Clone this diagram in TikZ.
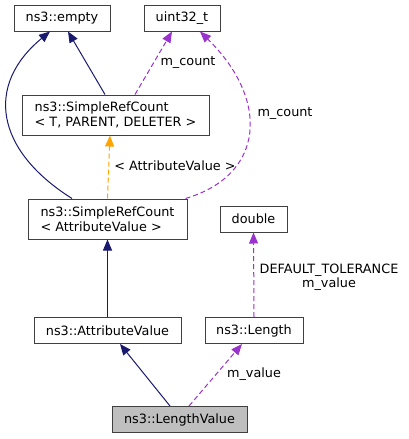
\documentclass[tikz,border=0pt]{standalone}
\usepackage{fontspec}
\setmainfont{DejaVu Sans}
\usetikzlibrary{arrows.meta}
\definecolor{boxgray}{HTML}{404040}
\definecolor{boxfill}{HTML}{BFBFBF}
\definecolor{inhblue}{HTML}{191970}
\definecolor{usepurple}{HTML}{9A32CD}
\definecolor{tmplorange}{HTML}{FFA500}
\begin{document}
\begin{tikzpicture}[x=1pt, y=-1pt, font=\fontsize{12.8}{14.5}\selectfont]
    \tikzstyle{cls}=[draw=boxgray, fill=white, line width=1pt, minimum height=26pt, inner sep=0pt]
    \tikzstyle{inh}=[inhblue, line width=1pt, -{Triangle[length=11pt,width=9pt]}]
    \tikzstyle{usage}=[usepurple, line width=1pt, dash pattern=on 5pt off 3pt, -{Triangle[length=11pt,width=9pt]}]
    \tikzstyle{tmpl}=[tmplorange, line width=1pt, dash pattern=on 5pt off 3pt, -{Triangle[length=11pt,width=9pt]}]
    \tikzstyle{lbl}=[inner sep=0pt, align=center]

    \useasboundingbox (0,0) rectangle (408,439);

    % classes
    \node[cls, minimum width=96pt] (empty) at (62,18) {ns3::empty};
    \node[cls, minimum width=76pt] (uint) at (182,18) {uint32\_t};
    \node[cls, minimum width=187pt, minimum height=40pt, align=left] (srct) at (115.5,115) {ns3::SimpleRefCount\\< T, PARENT, DELETER >};
    \node[cls, minimum width=159pt, minimum height=40pt, align=left] (srcav) at (107.5,219) {ns3::SimpleRefCount\\< AttributeValue >};
    \node[cls, minimum width=67pt] (double) at (253.5,219) {double};
    \node[cls, minimum width=147pt] (attr) at (107.5,330.5) {ns3::AttributeValue};
    \node[cls, minimum width=98pt] (length) at (254,330.5) {ns3::Length};
    \node[cls, fill=boxfill, minimum width=135pt] (lv) at (179.5,419.5) {ns3::LengthValue};

    % inheritance
    \draw[inh] ([xshift=-10.5pt]srct.north) -- ([xshift=6pt]empty.south);
    \draw[inh] ([xshift=-35.5pt]srcav.north) .. controls (-5,150) and (-15,85) .. ([xshift=-12pt]empty.south);
    \draw[inh] (attr.north) -- (srcav.south);
    \draw[inh] ([xshift=-9.5pt]lv.north) -- ([xshift=12.5pt]attr.south);

    % members
    \draw[usage] ([xshift=19.5pt]srct.north) -- ([xshift=-10pt]uint.south);
    \draw[usage] ([xshift=-2pt]srcav.north east) .. controls (265,175) and (270,100) .. ([xshift=18pt]uint.south);
    \draw[usage] (length.north) -- (double.south);
    \draw[usage] ([xshift=9.5pt]lv.north) -- ([xshift=-12pt]length.south);

    % template
    \draw[tmpl] (srcav.north) -- ([xshift=-5.5pt]srct.south);

    % labels
    \node[lbl] (lcount) at (188,63) {m\_count};
    \node[lbl] (lcount2) at (285,114) {m\_count};
    \node[lbl] (ltmpl) at (175,166) {< AttributeValue >};
    \node[lbl] (ltol) at (329,277.5) {DEFAULT\_TOLERANCE\\m\_value};
    \node[lbl] (lvalue) at (254,374) {m\_value};
\end{tikzpicture}
\end{document}
